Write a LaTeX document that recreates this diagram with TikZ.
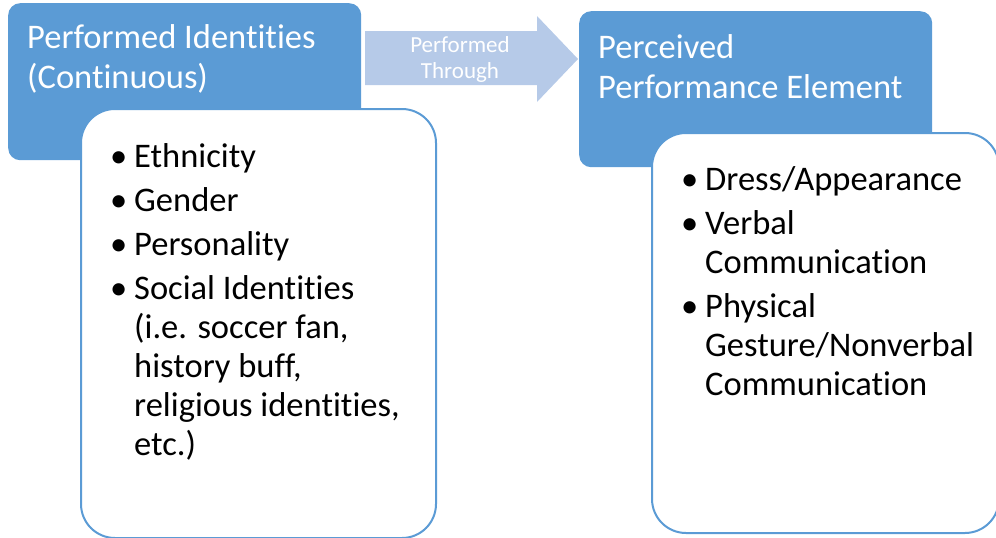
\documentclass[tikz,border=0pt]{standalone}
\usepackage{fontspec}
\setmainfont{Carlito}[Ligatures={NoCommon}]
\definecolor{accent}{HTML}{5B9BD5}
\definecolor{arrowfill}{HTML}{B6CAE8}
\begin{document}
\begin{tikzpicture}[x=1pt,y=-1pt,
  headbox/.style={rectangle, fill=accent, draw=none, rounded corners=12pt,
    anchor=north west, inner sep=0pt},
  listbox/.style={rectangle, fill=white, draw=accent, line width=2pt,
    rounded corners=34pt, anchor=north west, inner sep=0pt},
  headtext/.style={anchor=base west, inner sep=0pt, text=white,
    font=\fontsize{34.5}{39}\selectfont},
  itemtext/.style={anchor=base west, inner sep=0pt,
    font=\fontsize{34.5}{39}\selectfont},
  arrowtext/.style={anchor=base, inner sep=0pt, text=white,
    font=\fontsize{23}{26}\selectfont}]
\useasboundingbox (0,0) rectangle (996,538);

% left group
\node[headbox, minimum width=353pt, minimum height=157pt] (lhead) at (8,3) {};
\node[headtext] (lh1) at (27,48) {Performed Identities};
\node[headtext] (lh2) at (27,88) {(Continuous)};
\node[listbox, minimum width=355pt, minimum height=429pt] (llist) at (80,108) {};

\node[itemtext] (lb1) at (110,167) {•};
\node[itemtext] (li1) at (134,167) {Ethnicity};
\node[itemtext] (lb2) at (110,211) {•};
\node[itemtext] (li2) at (134,211) {Gender};
\node[itemtext] (lb3) at (110,255) {•};
\node[itemtext] (li3) at (134,255) {Personality};
\node[itemtext] (lb4) at (110,299) {•};
\node[itemtext] (li4) at (134,299) {Social Identities};
\node[itemtext] (li5) at (134,338) {(i.e. soccer fan,};
\node[itemtext] (li6) at (134,377) {history buff,};
\node[itemtext] (li7) at (134,416) {religious identities,};
\node[itemtext] (li8) at (134,455) {etc.)};

% block arrow between the groups
\fill[arrowfill] (365,31) -- (537,31) -- (537,16) -- (578,59) -- (537,102)
  -- (537,85) -- (365,85) -- cycle;
\node[arrowtext] (at1) at (460,52) {Performed};
\node[arrowtext] (at2) at (460,78) {Through};

% right group
\node[headbox, minimum width=353pt, minimum height=156pt] (rhead) at (579,11) {};
\node[headtext] (rh1) at (598,58) {Perceived};
\node[headtext] (rh2) at (598,98) {Performance Element};
\node[listbox, minimum width=347pt, minimum height=400pt] (rlist) at (651,132) {};

\node[itemtext] (rb1) at (681,190) {•};
\node[itemtext] (ri1) at (705,190) {Dress/Appearance};
\node[itemtext] (rb2) at (681,234) {•};
\node[itemtext] (ri2) at (705,234) {Verbal};
\node[itemtext] (ri3) at (705,273) {Communication};
\node[itemtext] (rb3) at (681,317) {•};
\node[itemtext] (ri4) at (705,317) {Physical};
\node[itemtext] (ri5) at (705,356) {Gesture/Nonverbal};
\node[itemtext] (ri6) at (705,395) {Communication};
\end{tikzpicture}
\end{document}
